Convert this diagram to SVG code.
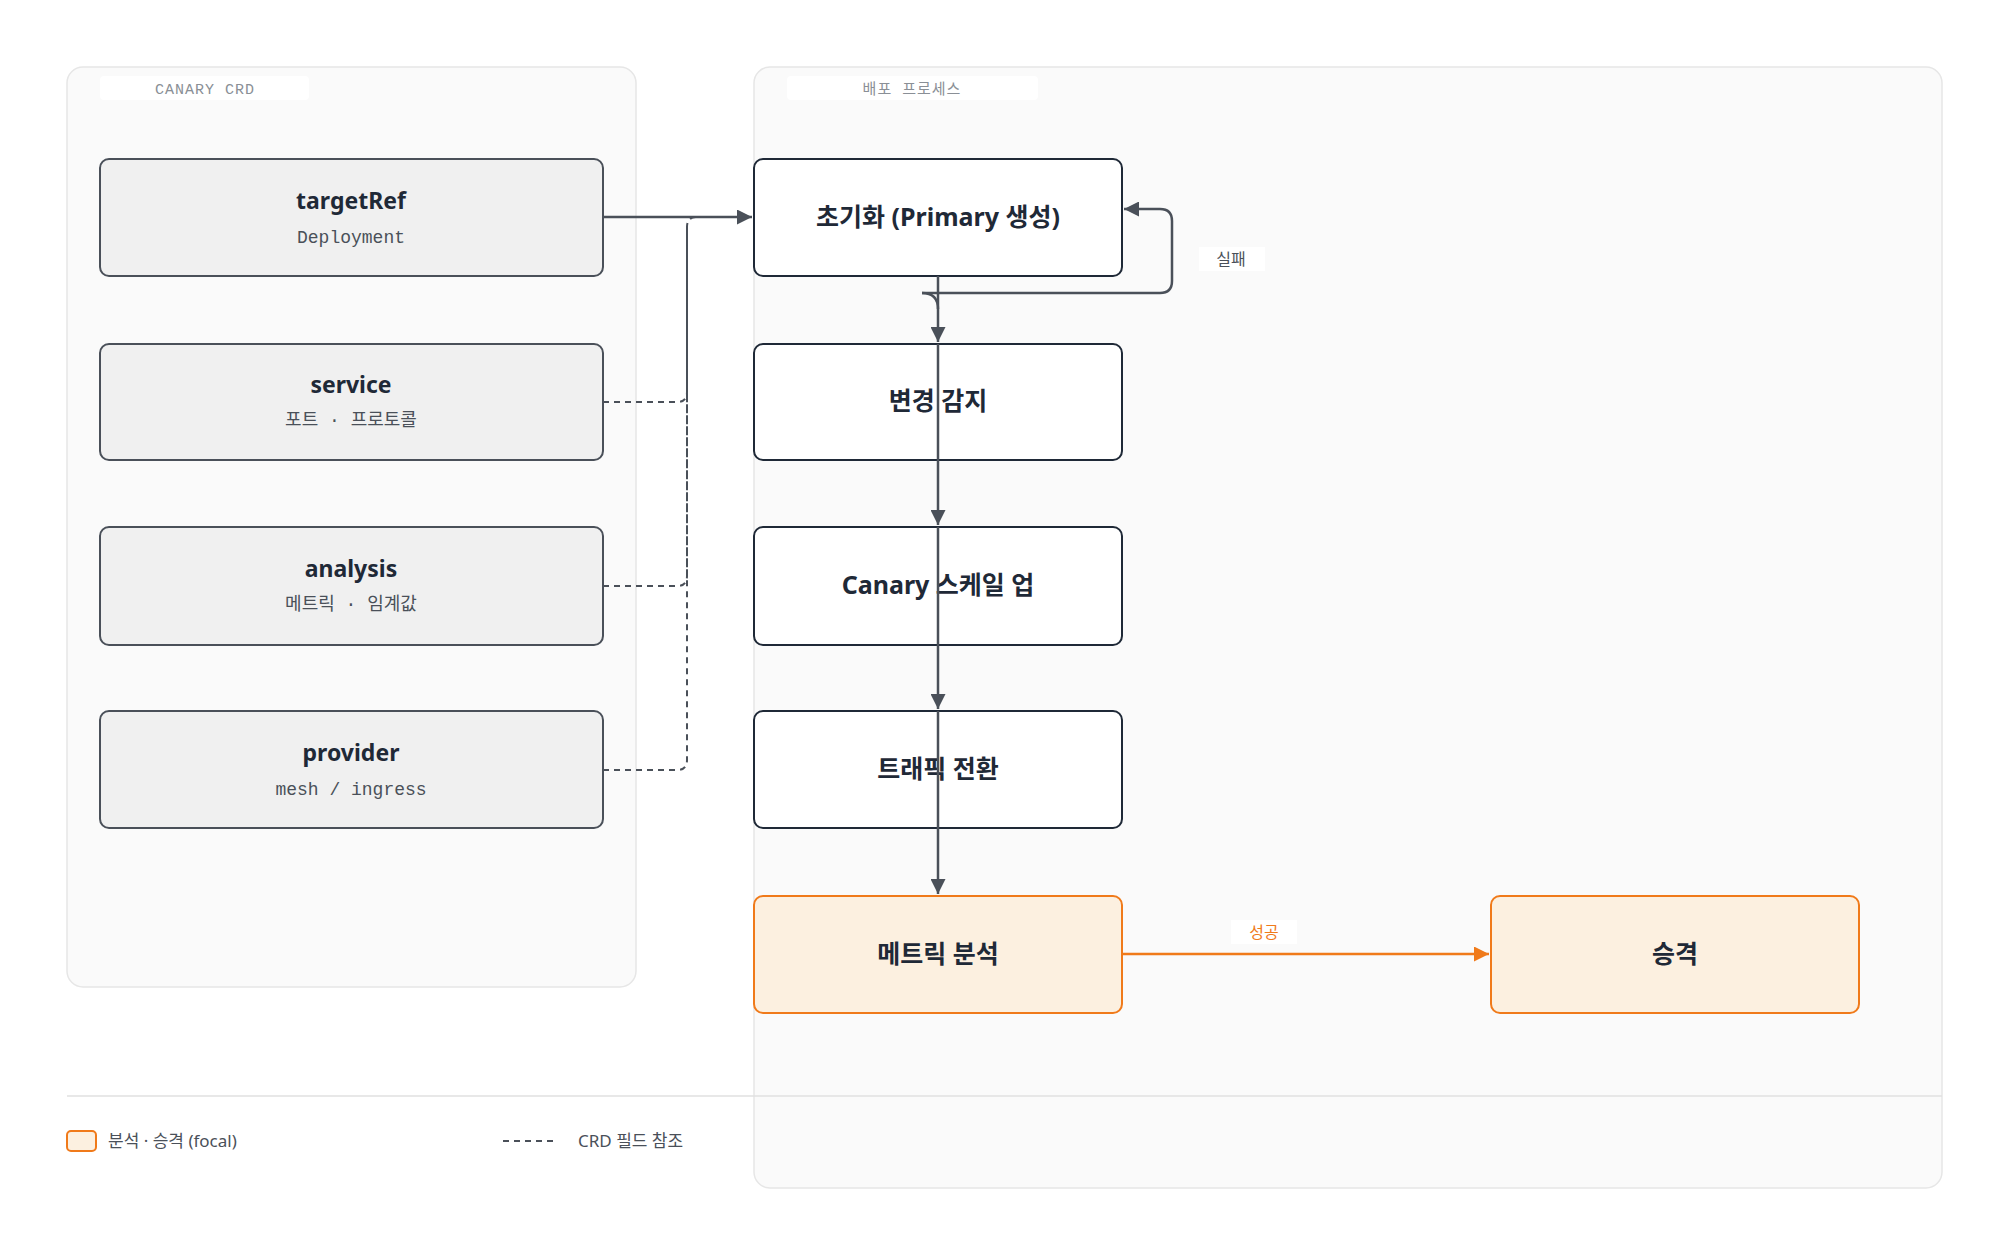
<svg xmlns="http://www.w3.org/2000/svg" width="2000" height="1250" viewBox="0 0 2000 1250">
<style>
.grp{fill:#fafafa;stroke:#e6e6e6;stroke-width:1.5}
.pill{fill:#fff}
.gl{font-family:"Liberation Mono","Noto Sans CJK KR",monospace;font-size:15px;fill:#8a8f96;text-anchor:middle;letter-spacing:1px}
.crd{fill:#f0f0f0;stroke:#4a5059;stroke-width:2}
.step{fill:#fff;stroke:#1f2937;stroke-width:2}
.focal{fill:#fcf0e0;stroke:#f07a1a;stroke-width:2}
.t{font-family:"Noto Sans","Noto Sans CJK KR",sans-serif;font-weight:bold;font-size:23px;fill:#1f2937;text-anchor:middle}
.t2{font-family:"Noto Sans","Noto Sans CJK KR",sans-serif;font-weight:bold;font-size:25px;fill:#1f2937;text-anchor:middle}
.s{font-family:"Liberation Mono","Noto Sans CJK KR",monospace;font-size:18px;fill:#4a5059;text-anchor:middle}
.ln{fill:none;stroke:#4a5059;stroke-width:2.5}
.dl{fill:none;stroke:#4a5059;stroke-width:2;stroke-dasharray:6 5}
.lb{font-family:"Noto Sans","Noto Sans CJK KR",sans-serif;font-size:16px;text-anchor:middle}
.lg{font-family:"Noto Sans","Noto Sans CJK KR",sans-serif;font-size:17px;fill:#4a5059}
</style>
<defs>
<marker id="a" viewBox="0 0 10 10" refX="10" refY="5" markerWidth="6" markerHeight="6" orient="auto"><path d="M0,0L10,5L0,10z" fill="#4a5059"/></marker>
<marker id="ao" viewBox="0 0 10 10" refX="10" refY="5" markerWidth="6" markerHeight="6" orient="auto"><path d="M0,0L10,5L0,10z" fill="#f07a1a"/></marker>
</defs>
<rect width="2000" height="1250" fill="#fff"/>
<g id="group-crd">
<rect class="grp" x="67" y="67" width="569" height="920" rx="16"/>
<rect class="pill" x="100" y="76" width="209" height="24" rx="4"/>
<text class="gl" x="205" y="94">CANARY CRD</text>
</g>
<g id="group-process">
<rect class="grp" x="754" y="67" width="1188" height="1121" rx="16"/>
<rect class="pill" x="787" y="76" width="251" height="24" rx="4"/>
<text class="gl" x="912" y="94">배포 프로세스</text>
</g>
<line x1="67" y1="1096" x2="1942" y2="1096" stroke="#e0e0e0" stroke-width="1.5"/>
<g id="n-targetRef"><rect class="crd" x="100" y="159" width="503" height="117" rx="9"/><text class="t" x="351" y="209">targetRef</text><text class="s" x="351" y="243">Deployment</text></g>
<g id="n-service"><rect class="crd" x="100" y="344" width="503" height="116" rx="9"/><text class="t" x="351" y="393">service</text><text class="s" x="351" y="426">포트 · 프로토콜</text></g>
<g id="n-analysis"><rect class="crd" x="100" y="527" width="503" height="118" rx="9"/><text class="t" x="351" y="577">analysis</text><text class="s" x="351" y="610">메트릭 · 임계값</text></g>
<g id="n-provider"><rect class="crd" x="100" y="711" width="503" height="117" rx="9"/><text class="t" x="351" y="761">provider</text><text class="s" x="351" y="795">mesh / ingress</text></g>
<g id="n-init"><rect class="step" x="754" y="159" width="368" height="117" rx="9"/><text class="t2" x="938" y="226">초기화 (Primary 생성)</text></g>
<g id="n-detect"><rect class="step" x="754" y="344" width="368" height="116" rx="9"/><text class="t2" x="938" y="410">변경 감지</text></g>
<g id="n-scale"><rect class="step" x="754" y="527" width="368" height="118" rx="9"/><text class="t2" x="938" y="594">Canary 스케일 업</text></g>
<g id="n-traffic"><rect class="step" x="754" y="711" width="368" height="117" rx="9"/><text class="t2" x="938" y="778">트래픽 전환</text></g>
<g id="n-metric"><rect class="focal" x="754" y="896" width="368" height="117" rx="9"/><text class="t2" x="938" y="963">메트릭 분석</text></g>
<g id="n-promote"><rect class="focal" x="1491" y="896" width="368" height="117" rx="9"/><text class="t2" x="1675" y="963">승격</text></g>
<g id="connectors">
<path class="ln" d="M603,217L752,217" marker-end="url(#a)"/>
<path class="dl" d="M603,402L677,402Q687,402 687,392L687,227Q687,217 697,217L752,217"/>
<path class="dl" d="M603,586L677,586Q687,586 687,576L687,227"/>
<path class="dl" d="M603,770L677,770Q687,770 687,760L687,227"/>
<path class="ln" d="M938,276L938,342" marker-end="url(#a)"/>
<path class="ln" d="M938,344L938,525" marker-end="url(#a)"/>
<path class="ln" d="M938,527L938,709" marker-end="url(#a)"/>
<path class="ln" d="M938,711L938,894" marker-end="url(#a)"/>
<path class="ln" d="M922,293Q938,293 938,309"/>
<path class="ln" d="M922,293L1160,293Q1172,293 1172,281L1172,221Q1172,209 1160,209L1124,209" marker-end="url(#a)"/>
<rect x="1199" y="247" width="66" height="24" fill="#fff"/>
<text class="lb" x="1231" y="265" fill="#4a5059">실패</text>
<path d="M1122,954L1489,954" fill="none" stroke="#f07a1a" stroke-width="2.5" marker-end="url(#ao)"/>
<rect x="1231" y="920" width="66" height="24" fill="#fff"/>
<text class="lb" x="1264" y="938" fill="#f07a1a">성공</text>
</g>
<g id="legend">
<rect x="67" y="1131" width="29" height="20" rx="4" fill="#fcf0e0" stroke="#f07a1a" stroke-width="2"/>
<text class="lg" x="108" y="1147">분석 · 승격 (focal)</text>
<line x1="503" y1="1141" x2="556" y2="1141" stroke="#4a5059" stroke-width="2" stroke-dasharray="6 5"/>
<text class="lg" x="578" y="1147">CRD 필드 참조</text>
</g>
</svg>
